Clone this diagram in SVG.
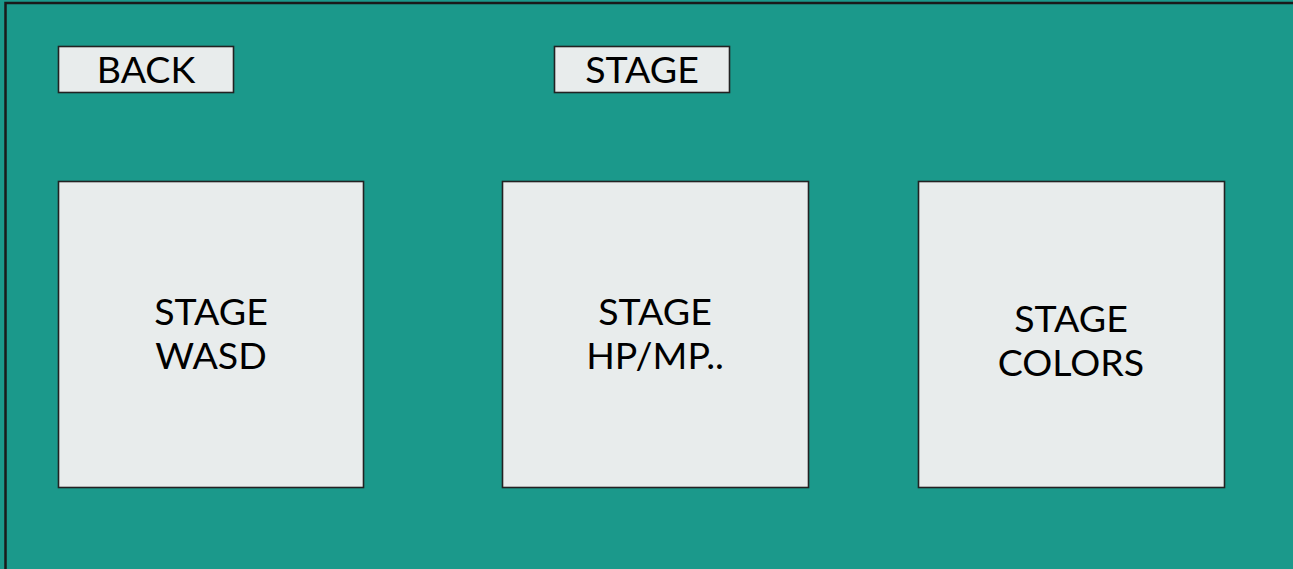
<svg xmlns="http://www.w3.org/2000/svg" width="1293" height="569" viewBox="0 0 1293 569">
<style>
.frame{fill:#1b998b;stroke:#1a1a1a;stroke-width:2.5}
.box{fill:#e8ecec;stroke:#222;stroke-width:1.6}
.t{font-family:Lato,"Open Sans","Liberation Sans",sans-serif;font-size:37.5px;font-weight:400;fill:#000;text-anchor:middle}
</style>
<rect width="1293" height="569" fill="#1b998b"/>
<rect class="frame" x="5.5" y="3" width="1300" height="580"/>
<g id="back">
<rect class="box" x="58.5" y="46.5" width="175" height="46"/>
<text class="t" x="146" y="83">BACK</text>
</g>
<g id="stage-title">
<rect class="box" x="554.5" y="46.5" width="175" height="46"/>
<text class="t" x="642" y="83">STAGE</text>
</g>
<g id="stage-wasd">
<rect class="box" x="58.5" y="181.5" width="305" height="306"/>
<text class="t" x="211" y="325">STAGE</text>
<text class="t" x="211" y="369">WASD</text>
</g>
<g id="stage-hpmp">
<rect class="box" x="502.5" y="181.5" width="306" height="306"/>
<text class="t" x="655" y="325">STAGE</text>
<text class="t" x="655" y="369">HP/MP..</text>
</g>
<g id="stage-colors">
<rect class="box" x="918.5" y="181.5" width="306" height="306"/>
<text class="t" x="1071" y="332">STAGE</text>
<text class="t" x="1071" y="376">COLORS</text>
</g>
<g id="connectors"></g>
</svg>
